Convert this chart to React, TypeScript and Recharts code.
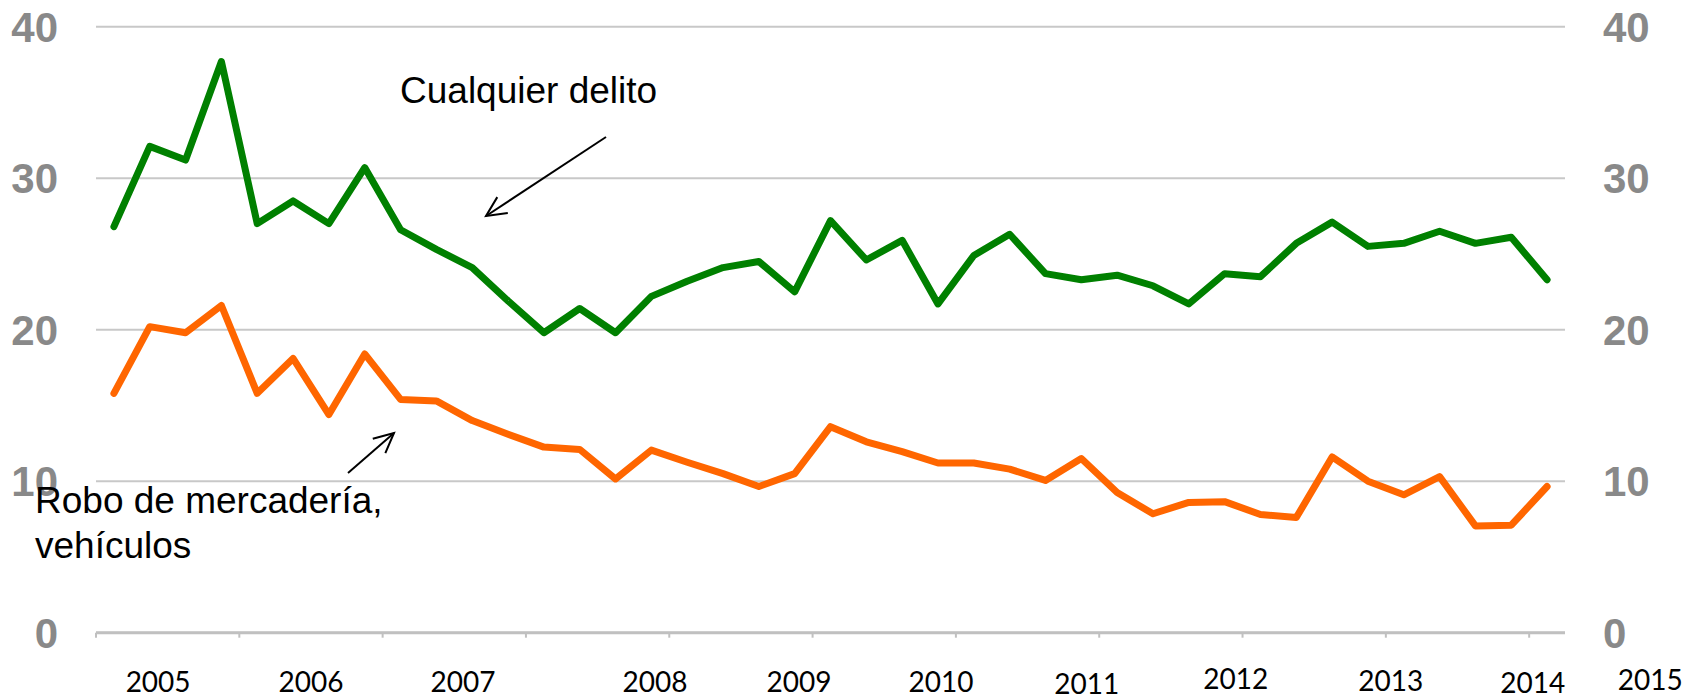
import React from 'react';
import { LineChart, Line, XAxis, YAxis, CartesianGrid } from 'recharts';

// quarterly index, 2005 T1 .. 2015 T1
const years = [2005, 2006, 2007, 2008, 2009, 2010, 2011, 2012, 2013, 2014, 2015];
const quarters = years.flatMap((y) => [1, 2, 3, 4].map((q) => `${y} T${q}`)).slice(0, 41);

const cualquierDelito = [
  26.8, 32.1, 31.2, 37.7, 27.0, 28.5, 27.0, 30.7, 26.6, 25.3, 24.1, 21.9, 19.8, 21.4,
  19.8, 22.2, 23.2, 24.1, 24.5, 22.5, 27.2, 24.6, 25.9, 21.7, 24.9, 26.3, 23.7, 23.3,
  23.6, 22.9, 21.7, 23.7, 23.5, 25.7, 27.1, 25.5, 25.7, 26.5, 25.7, 26.1, 23.3,
];

const roboMercaderia = [
  15.8, 20.2, 19.8, 21.6, 15.8, 18.1, 14.4, 18.4, 15.4, 15.3, 14.0, 13.1, 12.25, 12.1,
  10.15, 12.05, 11.25, 10.5, 9.65, 10.5, 13.6, 12.6, 11.95, 11.2, 11.2, 10.8, 10.05, 11.5,
  9.25, 7.85, 8.6, 8.65, 7.8, 7.6, 11.6, 10.0, 9.1, 10.3, 7.05, 7.1, 9.65,
];

const yTicks = [0, 10, 20, 30, 40];
const yearBoundaries = [0, 4, 8, 12, 16, 20, 24, 28, 32, 36, 40];

const rows = quarters.map((q, i) => ({
  q,
  x: i + 0.5,
  total: cualquierDelito[i],
  robo: roboMercaderia[i],
}));

const W = 1690;
const H = 699;
const GREY = '#898989';
const axisFont = { fill: GREY, fontSize: 42, fontWeight: 'bold', fontFamily: '"Liberation Sans", Arial, sans-serif' };

// the year captions in the original were hand-placed text boxes; small px nudges [dx, dy]
const yearNudge = [
  [-11, 0], [-11, 0], [-12, 0], [27, 0], [18, 0], [7, 0],
  [0, 2], [-4, -3], [-2, -1], [-13, 1], [-16, -2],
];

const YearTick = (props: any) => {
  const { x, y, payload, index } = props;
  // last label would run off the page, so it is pinned by its right edge
  const last = index === years.length - 1;
  const [dx, dy] = yearNudge[index] || [0, 0];
  return (
    <text
      x={x + dx}
      y={y + dy}
      dy="0.71em"
      textAnchor={last ? 'end' : 'middle'}
      fill="#000"
      fontSize={28}
      fontFamily="Lato, 'Open Sans', sans-serif"
    >
      {payload.value}
    </text>
  );
};

const Arrow = ({ x1, y1, x2, y2 }: { x1: number; y1: number; x2: number; y2: number }) => {
  const a = Math.atan2(y2 - y1, x2 - x1);
  const len = 22;
  const spread = 0.45;
  const p1 = [x2 - len * Math.cos(a - spread), y2 - len * Math.sin(a - spread)];
  const p2 = [x2 - len * Math.cos(a + spread), y2 - len * Math.sin(a + spread)];
  return (
    <g stroke="#000" strokeWidth={2} fill="none">
      <line x1={x1} y1={y1} x2={x2} y2={y2} />
      <polyline points={`${p1[0]},${p1[1]} ${x2},${y2} ${p2[0]},${p2[1]}`} />
    </g>
  );
};

export default function App() {
  return (
    <div style={{ position: 'relative', width: W, height: H, background: '#fff' }}>
      <style>{'body{margin:0}'}</style>
      <LineChart width={W} height={H} data={rows} margin={{ top: 26.7, right: 0, bottom: 0, left: 0 }}>
        <CartesianGrid vertical={false} stroke="#c8c8c8" strokeWidth={2} />
        <XAxis
          dataKey="x"
          type="number"
          domain={[0, 41]}
          allowDataOverflow
          ticks={yearBoundaries}
          interval={0}
          tickFormatter={() => ''}
          height={10}
          tickSize={5}
          axisLine={{ stroke: '#c0c0c0', strokeWidth: 3 }}
          tickLine={{ stroke: '#c0c0c0', strokeWidth: 2 }}
        />
        <XAxis
          xAxisId="years"
          dataKey="x"
          type="number"
          domain={[2004.522, 2014.126]}
          allowDataOverflow
          ticks={years}
          interval={0}
          height={56.3}
          axisLine={false}
          tickLine={false}
          tickSize={0}
          tickMargin={29}
          tick={<YearTick />}
        />
        <YAxis
          domain={[0, 40]}
          allowDataOverflow
          ticks={yTicks}
          interval={0}
          width={96}
          axisLine={false}
          tickLine={false}
          tickSize={0}
          tickMargin={38}
          tick={axisFont}
        />
        <YAxis
          yAxisId="right"
          orientation="right"
          domain={[0, 40]}
          allowDataOverflow
          ticks={yTicks}
          interval={0}
          width={125}
          axisLine={false}
          tickLine={false}
          tickSize={0}
          tickMargin={38}
          tick={axisFont}
        />
        <Line
          type="linear"
          dataKey="robo"
          stroke="#ff6600"
          strokeWidth={7}
          strokeLinejoin="round"
          strokeLinecap="round"
          dot={false}
          activeDot={false}
          isAnimationActive={false}
        />
        <Line
          type="linear"
          dataKey="total"
          yAxisId="right"
          stroke="#008000"
          strokeWidth={7}
          strokeLinejoin="round"
          strokeLinecap="round"
          dot={false}
          activeDot={false}
          isAnimationActive={false}
        />
      </LineChart>
      <svg
        width={W}
        height={H}
        style={{ position: 'absolute', left: 0, top: 0, pointerEvents: 'none' }}
        fontFamily='"Liberation Sans", Arial, sans-serif'
        fontSize={37}
      >
        <text x={400} y={103} fill="#000">Cualquier delito</text>
        <Arrow x1={606} y1={137} x2={486} y2={216} />
        <text x={35} y={513} fill="#000">Robo de mercadería,</text>
        <text x={35} y={558} fill="#000">vehículos</text>
        <Arrow x1={348} y1={473} x2={394} y2={433} />
      </svg>
    </div>
  );
}
